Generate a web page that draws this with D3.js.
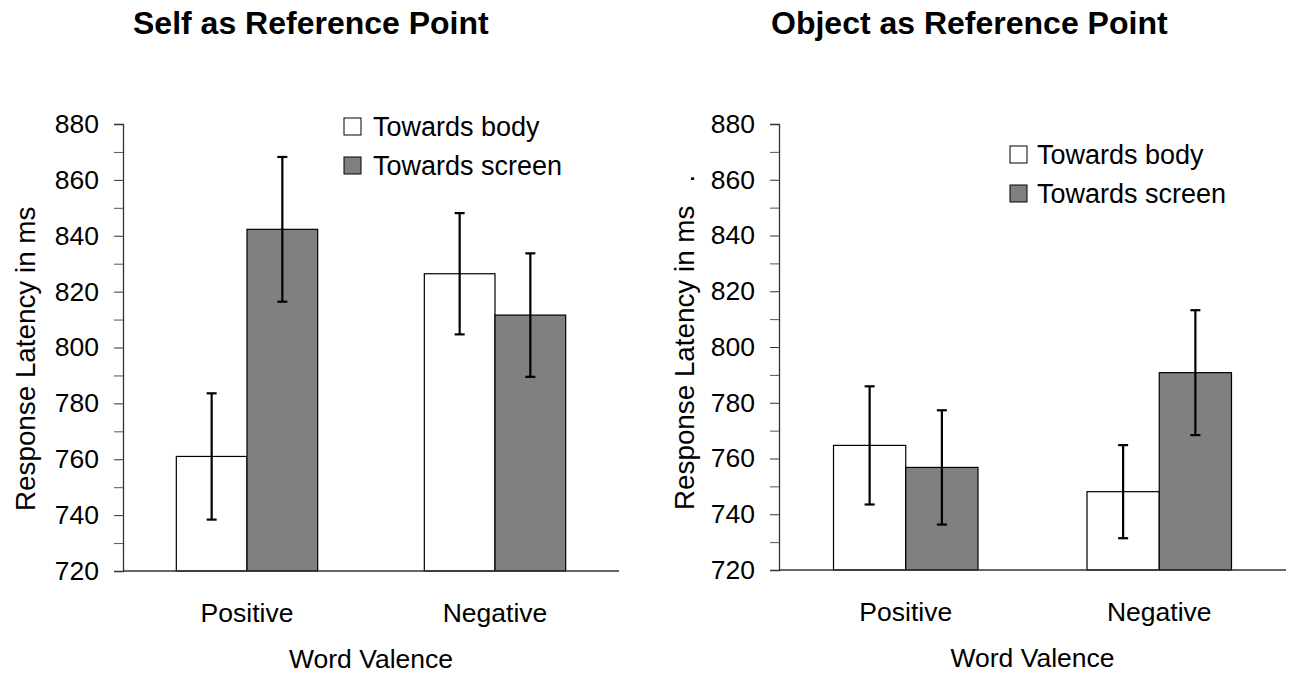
<!DOCTYPE html>
<html>
<head>
<meta charset="utf-8">
<script src="https://cdn.jsdelivr.net/npm/d3@7"></script>
<style>
  body { margin: 0; background: #fff; }
  svg { font-family: "Liberation Sans", Arial, sans-serif; }
</style>
</head>
<body>
<svg id="chart" width="1291" height="675"></svg>
<script>
// categories and series
var categories = ["Positive", "Negative"]
var series = ["Towards body", "Towards screen"]
var yTicks = [720, 740, 760, 780, 800, 820, 840, 860, 880]

// Self as Reference Point
var selfBody = [761.0, 826.4]
var selfBodyErr = [22.6, 21.7]
var selfScreen = [842.3, 811.6]
var selfScreenErr = [25.9, 22.1]

// Object as Reference Point
var objBody = [764.7, 748.1]
var objBodyErr = [21.2, 16.7]
var objScreen = [756.8, 790.8]
var objScreenErr = [20.5, 22.4]

var fills = ["#ffffff", "#808080"]

var svg = d3.select("#chart")

function panel(opt) {
  var g = svg.append("g").attr("transform", `translate(${opt.left},${opt.top})`)
  var w = opt.width, h = opt.height

  var y = d3.scaleLinear().domain([720, 880]).range([h, 0])
  var x0 = d3.scaleBand().domain(categories).range([0, w]).paddingInner(0.43).paddingOuter(0.215)
  var x1 = d3.scaleBand().domain(series).range([0, x0.bandwidth()])

  // minor ticks
  g.append("g")
    .call(d3.axisLeft(y).tickValues(d3.range(730, 880, 20)).tickSize(9).tickFormat(""))
    .call(a => a.select(".domain").remove())
    .selectAll("line").attr("stroke", "#555")

  // major ticks
  var ay = g.append("g")
    .call(d3.axisLeft(y).tickValues(yTicks).tickSize(9).tickPadding(15))
  ay.select(".domain").attr("stroke", "#333").attr("stroke-width", 1.3)
  ay.selectAll("line").attr("stroke", "#333")
  ay.selectAll("text").attr("font-size", 26.5).attr("fill", "#000")
    .attr("font-family", "Liberation Sans, Arial, sans-serif")

  var rows = []
  categories.forEach((c, i) => {
    rows.push({ cat: c, s: series[0], v: opt.body[i], e: opt.bodyErr[i], fill: fills[0] })
    rows.push({ cat: c, s: series[1], v: opt.screen[i], e: opt.screenErr[i], fill: fills[1] })
  })

  g.append("g").selectAll("rect")
    .data(rows)
    .join("rect")
    .attr("x", d => x0(d.cat) + x1(d.s))
    .attr("y", d => y(d.v))
    .attr("width", x1.bandwidth())
    .attr("height", d => h - y(d.v))
    .attr("fill", d => d.fill)
    .attr("stroke", "#000")
    .attr("stroke-width", 1.2)

  // x axis line
  g.append("line")
    .attr("x1", 0).attr("x2", w).attr("y1", h).attr("y2", h)
    .attr("stroke", "#333").attr("stroke-width", 1.5)

  // error bars
  var eb = g.append("g").attr("stroke", "#000").attr("stroke-width", 2.2)
  rows.forEach(d => {
    var cx = x0(d.cat) + x1(d.s) + x1.bandwidth() / 2
    eb.append("line").attr("x1", cx).attr("x2", cx).attr("y1", y(d.v + d.e)).attr("y2", y(d.v - d.e))
    eb.append("line").attr("x1", cx - 5).attr("x2", cx + 5).attr("y1", y(d.v + d.e)).attr("y2", y(d.v + d.e))
    eb.append("line").attr("x1", cx - 5).attr("x2", cx + 5).attr("y1", y(d.v - d.e)).attr("y2", y(d.v - d.e))
  })

  // category labels
  g.append("g").selectAll("text")
    .data(categories)
    .join("text")
    .attr("x", d => x0(d) + x0.bandwidth() / 2)
    .attr("y", h + 51)
    .attr("text-anchor", "middle")
    .attr("font-size", 26.5)
    .text(d => d)

  g.append("text")
    .attr("x", w / 2).attr("y", h + 97)
    .attr("text-anchor", "middle")
    .attr("font-size", 26.5)
    .text("Word Valence")

  // y title
  g.append("text")
    .attr("transform", `translate(${opt.yTitleX},${h - 60}) rotate(-90)`)
    .attr("font-size", 27.8)
    .attr("xml:space", "preserve")
    .style("white-space", "pre")
    .text(opt.yTitle)

  // title
  svg.append("text")
    .attr("x", opt.titleX).attr("y", 34)
    .attr("font-size", 32).attr("font-weight", "bold")
    .text(opt.title)

  // legend
  var lg = g.append("g").attr("transform", `translate(${opt.legX},${opt.legY})`)
  series.forEach((s, i) => {
    lg.append("rect").attr("x", 0).attr("y", i * 39).attr("width", 17).attr("height", 17)
      .attr("fill", fills[i]).attr("stroke", "#000").attr("stroke-width", 1)
    lg.append("text").attr("x", opt.legText).attr("y", i * 39 + 18)
      .attr("font-size", 27).text(s)
  })
}

panel({
  left: 123, top: 124, width: 496, height: 447,
  body: selfBody, bodyErr: selfBodyErr, screen: selfScreen, screenErr: selfScreenErr,
  title: "Self as Reference Point", titleX: 133,
  yTitle: "Response Latency in ms", yTitleX: -88,
  legX: 221, legY: -6, legText: 29
})

panel({
  left: 779, top: 124, width: 507, height: 446,
  body: objBody, bodyErr: objBodyErr, screen: objScreen, screenErr: objScreenErr,
  title: "Object as Reference Point", titleX: 771,
  yTitle: "Response Latency in ms   .", yTitleX: -85,
  legX: 231, legY: 22, legText: 27
})
</script>
</body>
</html>
